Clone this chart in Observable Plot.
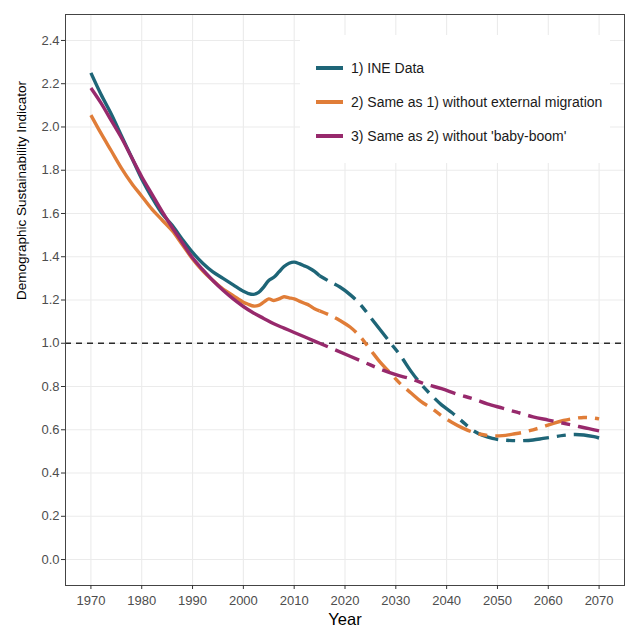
<!DOCTYPE html>
<html>
<head>
<meta charset="utf-8">
<script src="https://cdn.jsdelivr.net/npm/d3@7"></script>
<script src="https://cdn.jsdelivr.net/npm/@observablehq/plot@0.6"></script>
<style>
  html, body { margin: 0; padding: 0; background: #fff; }
  #wrap { position: relative; width: 625px; height: 626px; font-family: "Liberation Sans", Arial, Helvetica, sans-serif; }
  #legend { position: absolute; left: 300px; top: 35px; width: 310px; height: 128px; background: #fff; }
  .item { position: absolute; left: 16px; display: flex; align-items: center; font-size: 14px; color: #1a1a1a; white-space: nowrap; }
  .swatch { width: 27px; height: 3.4px; margin-right: 8px; }
</style>
</head>
<body>
<div id="wrap"></div>
<script>
// ---- Data ----
const seriesNames = [
  "1) INE Data",
  "2) Same as 1) without external migration",
  "3) Same as 2) without 'baby-boom'"
];
const seriesColors = ["#1e6577", "#e07d38", "#97296c"];

const ineYears = [1970,1972,1974,1976,1978,1980,1982,1984,1986,1988,1990,1992,1994,1996,1998,2000,2001,2002,2003,2004,2005,2006,2007,2008,2009,2010,2011,2012,2013,2014,2015,2017,2019,2021,2023,2025,2027,2029,2031,2033,2035,2037,2039,2041,2043,2045,2047,2049,2051,2053,2055,2057,2059,2061,2063,2065,2067,2069,2070];
const ineValues = [2.25,2.15,2.06,1.96,1.86,1.76,1.675,1.60,1.545,1.48,1.42,1.37,1.33,1.30,1.27,1.24,1.23,1.226,1.235,1.26,1.29,1.305,1.33,1.355,1.37,1.375,1.368,1.358,1.347,1.332,1.312,1.285,1.26,1.225,1.18,1.12,1.06,1.00,0.94,0.87,0.81,0.76,0.715,0.68,0.64,0.60,0.575,0.56,0.553,0.55,0.55,0.553,0.56,0.567,0.574,0.578,0.576,0.568,0.562];

const noMigYears = [1970,1972,1974,1976,1978,1980,1982,1984,1986,1988,1990,1992,1994,1996,1998,2000,2001,2002,2003,2004,2005,2006,2007,2008,2009,2010,2011,2012,2013,2014,2015,2017,2019,2021,2023,2025,2027,2029,2031,2033,2035,2037,2039,2041,2043,2045,2047,2049,2051,2053,2055,2057,2059,2061,2063,2065,2067,2069,2070];
const noMigValues = [2.055,1.97,1.89,1.81,1.74,1.68,1.62,1.57,1.52,1.455,1.39,1.335,1.29,1.25,1.22,1.19,1.18,1.172,1.175,1.19,1.205,1.198,1.205,1.215,1.21,1.205,1.195,1.185,1.175,1.16,1.15,1.13,1.105,1.075,1.03,0.97,0.91,0.86,0.81,0.77,0.73,0.70,0.665,0.635,0.61,0.59,0.578,0.572,0.573,0.58,0.588,0.60,0.614,0.63,0.643,0.652,0.657,0.654,0.65];

const noBoomYears = [1970,1972,1974,1976,1978,1980,1982,1984,1986,1988,1990,1992,1994,1996,1998,2000,2002,2004,2006,2008,2010,2012,2014,2015,2018,2021,2024,2027,2030,2033,2036,2039,2042,2045,2048,2051,2054,2057,2060,2063,2066,2068,2070];
const noBoomValues = [2.18,2.11,2.03,1.95,1.86,1.77,1.69,1.61,1.535,1.465,1.395,1.34,1.29,1.245,1.205,1.17,1.14,1.115,1.09,1.07,1.05,1.03,1.01,1.0,0.97,0.94,0.91,0.88,0.855,0.835,0.81,0.79,0.765,0.745,0.72,0.70,0.68,0.66,0.645,0.63,0.615,0.605,0.595];

const xTicks = [1970,1980,1990,2000,2010,2020,2030,2040,2050,2060,2070];
const yTicks = [0,0.2,0.4,0.6,0.8,1.0,1.2,1.4,1.6,1.8,2.0,2.2,2.4];
const referenceLevel = [1];
const projectionStart = 2015;

// ---- Build table ----
const rows = [];
[[ineYears, ineValues], [noMigYears, noMigValues], [noBoomYears, noBoomValues]].forEach(([ys, vs], i) => {
  ys.forEach((y, j) => rows.push({year: y, value: vs[j], series: seriesNames[i]}));
});
const observed = rows.filter(d => d.year <= projectionStart);
const projected = rows.filter(d => d.year >= projectionStart);

const font = "'Liberation Sans', Arial, Helvetica, sans-serif";

const chart = Plot.plot({
  width: 625,
  height: 626,
  marginLeft: 65,
  marginRight: 1,
  marginTop: 14,
  marginBottom: 41,
  style: {fontFamily: font, background: "#fff"},
  x: {domain: [1965, 2075]},
  y: {domain: [-0.12, 2.52]},
  color: {domain: seriesNames, range: seriesColors},
  marks: [
    Plot.gridX(xTicks, {stroke: "#ebebeb", strokeOpacity: 1, strokeWidth: 1.1}),
    Plot.gridY(yTicks, {stroke: "#ebebeb", strokeOpacity: 1, strokeWidth: 1.1}),
    Plot.ruleY(referenceLevel, {stroke: "#2b2b2b", strokeWidth: 1.4, strokeDasharray: "6,5"}),
    Plot.line(observed, {x: "year", y: "value", stroke: "series", z: "series", strokeWidth: 3.4, curve: "catmull-rom", strokeLinecap: "butt"}),
    Plot.line(projected, {x: "year", y: "value", stroke: "series", z: "series", strokeWidth: 3.4, curve: "catmull-rom", strokeLinecap: "butt", strokeDasharray: "9,8,26,8"}),
    Plot.frame({stroke: "#444", strokeWidth: 1}),
    Plot.axisX(xTicks, {tickSize: 4, tickPadding: 6, fontSize: 13, color: "#4d4d4d", stroke: "#333", tickFormat: d => String(d), label: null}),
    Plot.axisY(yTicks, {tickSize: 4, tickPadding: 2, fontSize: 13, color: "#4d4d4d", stroke: "#333", tickFormat: d3.format(".1f"), label: null}),
    Plot.text(["Year"], {frameAnchor: "bottom", dy: 39, fontSize: 16.5, fill: "#000", text: d => d}),
    Plot.text(["Demographic Sustainability Indicator"], {frameAnchor: "left", dx: -44, rotate: -90, fontSize: 13.5, fill: "#000", text: d => d})
  ]
});

const wrap = document.getElementById("wrap");
wrap.appendChild(chart);

// Legend (inside the panel, white box)
const legend = document.createElement("div");
legend.id = "legend";
const tops = [34, 68, 102];
seriesNames.forEach((name, i) => {
  const item = document.createElement("div");
  item.className = "item";
  item.style.top = (tops[i] - 9) + "px";
  const sw = document.createElement("span");
  sw.className = "swatch";
  sw.style.background = seriesColors[i];
  const tx = document.createElement("span");
  tx.textContent = name;
  item.appendChild(sw);
  item.appendChild(tx);
  legend.appendChild(item);
});
wrap.appendChild(legend);
</script>
</body>
</html>
